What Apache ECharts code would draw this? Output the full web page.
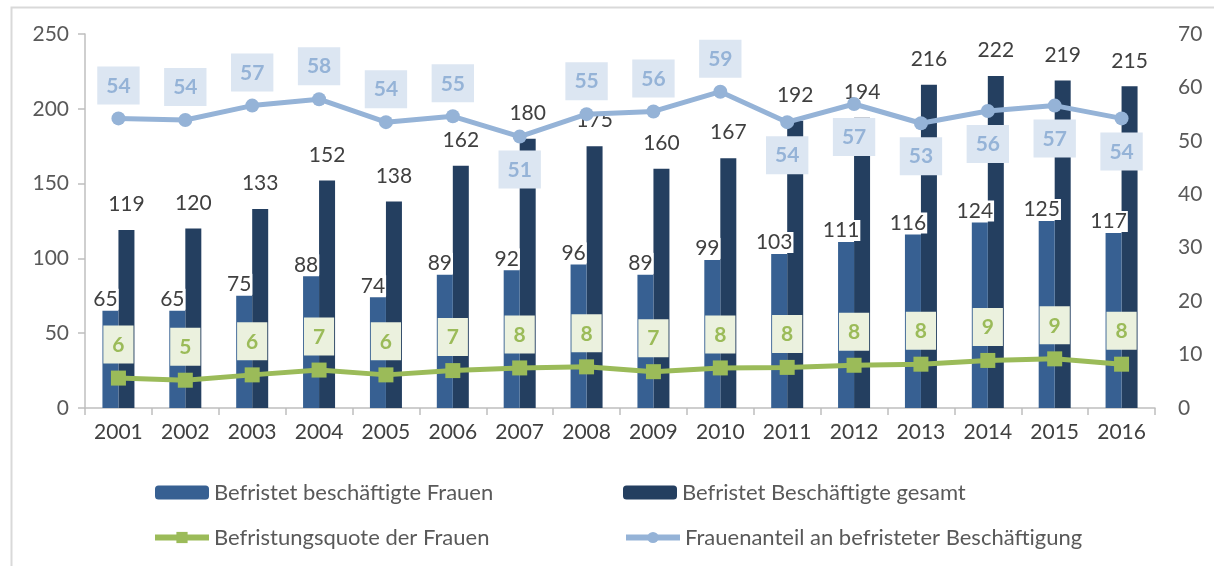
<!DOCTYPE html>
<html>
<head>
<meta charset="utf-8">
<script src="https://cdn.jsdelivr.net/npm/echarts@6/dist/echarts.min.js"></script>
<style>
  html, body { margin: 0; padding: 0; background: #fff; }
  #chart { width: 1214px; height: 566px; }
</style>
</head>
<body>
<div id="chart"></div>
<script>
// Jahre
const years = ['2001', '2002', '2003', '2004', '2005', '2006', '2007', '2008',
  '2009', '2010', '2011', '2012', '2013', '2014', '2015', '2016'];
// Befristet beschäftigte Frauen (linke Achse)
const women = [65, 65, 75, 88, 74, 89, 92, 96, 89, 99, 103, 111, 116, 124, 125, 117];
// Befristet Beschäftigte gesamt (linke Achse)
const total = [119, 120, 133, 152, 138, 162, 180, 175, 160, 167, 192, 194, 216, 222, 219, 215];
// Befristungsquote der Frauen in % (rechte Achse)
const quote = [5.6, 5.2, 6.2, 7.1, 6.2, 7.0, 7.5, 7.7, 6.8, 7.5, 7.6, 8.0, 8.2, 8.9, 9.2, 8.2];
// Frauenanteil an befristeter Beschäftigung in % (rechte Achse)
const share = [54.2, 53.9, 56.6, 57.8, 53.5, 54.6, 50.8, 55.0, 55.5, 59.2, 53.5, 56.9, 53.3, 55.6, 56.6, 54.2];
// Jahre, bei denen die Beschriftung unter dem Punkt steht
const shareBelow = ['2007', '2011', '2012', '2013', '2014', '2015', '2016'];

const font = 'Lato';
const chart = echarts.init(document.getElementById('chart'));

const round = (p) => Math.round(p.value);

chart.setOption({
  animation: false,
  textStyle: {fontFamily: font},
  graphic: [{
    type: 'rect',
    left: 9, top: 5,
    shape: {width: 1240, height: 620},
    style: {fill: 'none', stroke: '#D9D9D9', lineWidth: 2},
    silent: true
  }],
  grid: {left: 85, right: 59, top: 34, bottom: 158},
  legend: {
    left: 152, top: 470, width: 950, padding: 0,
    itemWidth: 54, itemHeight: 14, itemGap: 0,
    lineStyle: {width: 6},
    textStyle: {fontSize: 22, color: '#595959', width: 409, lineHeight: 45, fontFamily: font},
    data: ['Befristet beschäftigte Frauen', 'Befristet Beschäftigte gesamt',
      'Befristungsquote der Frauen', 'Frauenanteil an befristeter Beschäftigung']
  },
  xAxis: {
    type: 'category',
    data: years,
    axisLine: {lineStyle: {color: '#BFBFBF', width: 1.5}},
    axisTick: {show: true, length: 7, lineStyle: {color: '#BFBFBF', width: 1.5}},
    axisLabel: {fontSize: 21, color: '#404040', margin: 14}
  },
  yAxis: [{
    type: 'value', min: 0, max: 250, interval: 50,
    axisLine: {show: true, lineStyle: {color: '#BFBFBF', width: 1.5}},
    axisTick: {show: true, length: 7, lineStyle: {color: '#BFBFBF', width: 1.5}},
    axisLabel: {fontSize: 21, color: '#595959', margin: 16},
    splitLine: {show: false}
  }, {
    type: 'value', min: 0, max: 70, interval: 10,
    axisLine: {show: false},
    axisTick: {show: false},
    axisLabel: {fontSize: 21, color: '#595959', margin: 23},
    splitLine: {show: false}
  }],
  series: [{
    name: 'Befristet beschäftigte Frauen',
    type: 'bar',
    data: women,
    barWidth: 16,
    barGap: '0%',
    z: 3,
    itemStyle: {color: '#376092'},
    label: {
      show: true, position: 'top', distance: 1, offset: [-5, 0],
      fontSize: 21, color: '#404040', backgroundColor: '#fff', padding: [0, 1, 0, 1]
    }
  }, {
    name: 'Befristet Beschäftigte gesamt',
    type: 'bar',
    data: total,
    barWidth: 16,
    z: 2,
    itemStyle: {color: '#243F60'},
    label: {show: true, position: 'top', distance: 15, fontSize: 21, color: '#404040'}
  }, {
    name: 'Befristungsquote der Frauen',
    type: 'line',
    yAxisIndex: 1,
    data: quote,
    z: 4,
    symbol: 'rect',
    symbolSize: 15,
    lineStyle: {color: '#9BBB59', width: 5},
    itemStyle: {color: '#9BBB59'},
    label: {
      show: true, position: 'top', distance: 7, formatter: round,
      fontSize: 21, fontWeight: 'bold', color: '#9BBB59',
      backgroundColor: '#EBF1DE', padding: [9, 9, 8, 9]
    }
  }, {
    name: 'Frauenanteil an befristeter Beschäftigung',
    type: 'line',
    yAxisIndex: 1,
    data: share.map((v, i) => ({
      value: v,
      label: {position: shareBelow.includes(years[i]) ? 'bottom' : 'top'}
    })),
    z: 5,
    symbol: 'circle',
    symbolSize: 14,
    lineStyle: {color: '#95B3D7', width: 5},
    itemStyle: {color: '#95B3D7'},
    label: {
      show: true, distance: 7, formatter: round,
      fontSize: 21, fontWeight: 'bold', color: '#95B3D7',
      backgroundColor: '#DCE6F2', padding: [9, 9, 8, 9]
    }
  }]
});
</script>
</body>
</html>
